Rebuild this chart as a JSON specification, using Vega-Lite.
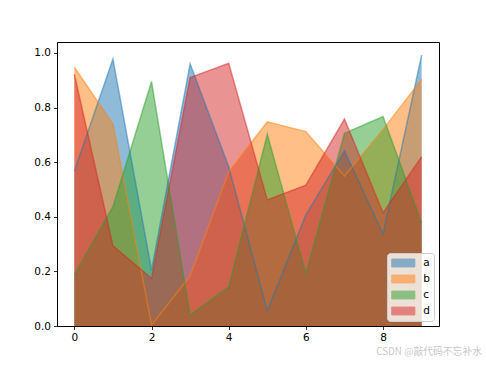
{
  "$schema": "https://vega.github.io/schema/vega-lite/v6.json",
  "width": 382,
  "height": 284,
  "autosize": "none",
  "padding": {"left": 57, "top": 42, "right": 47, "bottom": 39},
  "background": "white",
  "config": {
    "view": {"stroke": "black", "strokeWidth": 1},
    "font": "DejaVu Sans",
    "axis": {"grid": false, "domainColor": "black", "tickColor": "black", "labelColor": "black", "labelFontSize": 10.5, "tickSize": 3.5, "labelPadding": 3, "title": null, "domainWidth": 0.8, "tickWidth": 0.8}
  },
  "title": {"text": "CSDN @敲代码不忘补水", "orient": "bottom", "anchor": "end", "font": "Noto Sans CJK SC", "fontSize": 9.8, "fontWeight": "normal", "color": "#c8c8c8", "offset": 4, "dx": 43},
  "data": {
    "values": [
      {"x": 0, "s": "a", "v": 0.568}, {"x": 1, "s": "a", "v": 0.978}, {"x": 2, "s": "a", "v": 0.205}, {"x": 3, "s": "a", "v": 0.96}, {"x": 4, "s": "a", "v": 0.583},
      {"x": 5, "s": "a", "v": 0.056}, {"x": 6, "s": "a", "v": 0.407}, {"x": 7, "s": "a", "v": 0.641}, {"x": 8, "s": "a", "v": 0.337}, {"x": 9, "s": "a", "v": 0.992},
      {"x": 0, "s": "b", "v": 0.948}, {"x": 1, "s": "b", "v": 0.74}, {"x": 2, "s": "b", "v": 0.004}, {"x": 3, "s": "b", "v": 0.183}, {"x": 4, "s": "b", "v": 0.565},
      {"x": 5, "s": "b", "v": 0.748}, {"x": 6, "s": "b", "v": 0.712}, {"x": 7, "s": "b", "v": 0.549}, {"x": 8, "s": "b", "v": 0.72}, {"x": 9, "s": "b", "v": 0.904},
      {"x": 0, "s": "c", "v": 0.189}, {"x": 1, "s": "c", "v": 0.437}, {"x": 2, "s": "c", "v": 0.895}, {"x": 3, "s": "c", "v": 0.04}, {"x": 4, "s": "c", "v": 0.144},
      {"x": 5, "s": "c", "v": 0.702}, {"x": 6, "s": "c", "v": 0.193}, {"x": 7, "s": "c", "v": 0.706}, {"x": 8, "s": "c", "v": 0.767}, {"x": 9, "s": "c", "v": 0.378},
      {"x": 0, "s": "d", "v": 0.922}, {"x": 1, "s": "d", "v": 0.294}, {"x": 2, "s": "d", "v": 0.175}, {"x": 3, "s": "d", "v": 0.91}, {"x": 4, "s": "d", "v": 0.962},
      {"x": 5, "s": "d", "v": 0.462}, {"x": 6, "s": "d", "v": 0.516}, {"x": 7, "s": "d", "v": 0.758}, {"x": 8, "s": "d", "v": 0.415}, {"x": 9, "s": "d", "v": 0.62}
    ]
  },
  "encoding": {
    "x": {"field": "x", "type": "quantitative", "scale": {"domain": [-0.45, 9.45], "nice": false, "zero": false}, "axis": {"values": [0, 2, 4, 6, 8]}},
    "y": {"field": "v", "type": "quantitative", "stack": null, "scale": {"domain": [0, 1.04], "nice": false}, "axis": {"values": [0, 0.2, 0.4, 0.6, 0.8, 1.0], "format": ".1f"}},
    "color": {"field": "s", "type": "nominal", "scale": {"domain": ["a", "b", "c", "d"], "range": ["#1f77b4", "#ff7f0e", "#2ca02c", "#d62728"]},
      "legend": {"title": null, "orient": "bottom-right", "offset": 5, "padding": 4, "fillColor": "rgba(255,255,255,0.8)", "strokeColor": "#cccccc", "cornerRadius": 3,
        "symbolType": "M-2.2,-0.75H2.2V0.75H-2.2Z", "symbolSize": 110, "symbolOffset": 6.3, "symbolOpacity": 0.5, "symbolStrokeWidth": 1, "labelFontSize": 10.5, "labelOffset": 14, "rowPadding": 4, "labelColor": "black"}}
  },
  "layer": [
    {"mark": {"type": "area", "fillOpacity": 0.5, "interpolate": "linear"}},
    {"mark": {"type": "line", "strokeOpacity": 0.5, "strokeWidth": 1.5}}
  ]
}
